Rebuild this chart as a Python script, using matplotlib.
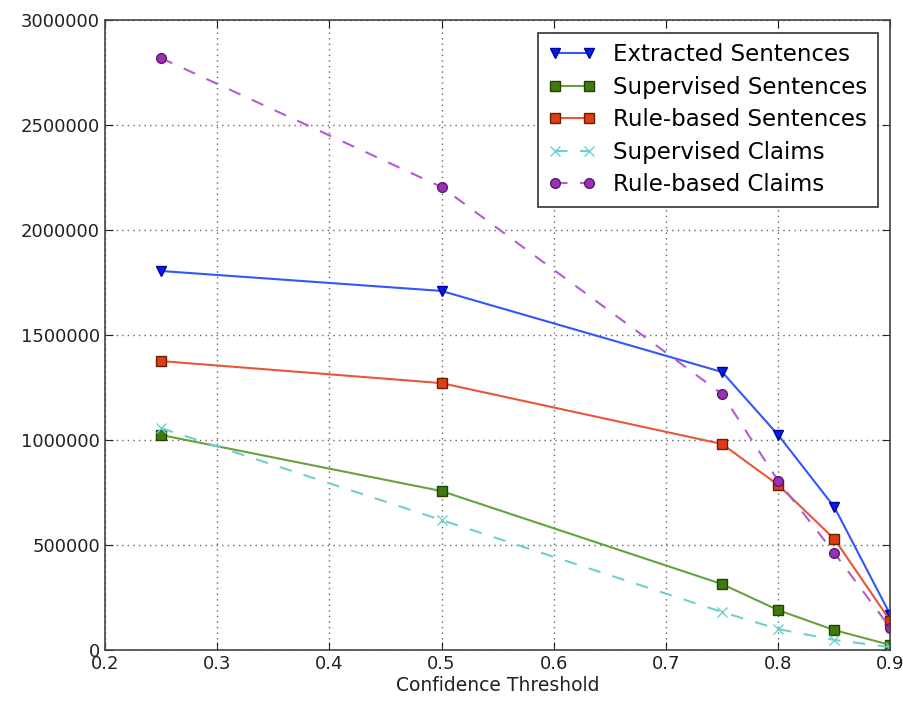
import numpy as np
import matplotlib
matplotlib.use('Agg')
import matplotlib.pyplot as plt

thresholds = [0.25, 0.5, 0.75, 0.8, 0.85, 0.9]
extracted_sent = [1805000, 1710000, 1324000, 1024000, 681000, 167000]
supervised_sent = [1024000, 757000, 314000, 190000, 95000, 24000]
rule_sent = [1376000, 1271000, 981000, 786000, 529000, 138000]
supervised_claims = [1057000, 619000, 181000, 100000, 48000, 14000]
rule_claims = [2819000, 2205000, 1219000, 805000, 462000, 105000]

fig = plt.figure(figsize=(9.04, 7.02), dpi=100)
ax = fig.add_axes([0.116, 0.074, 0.869, 0.8975])

ax.plot(thresholds, extracted_sent, '-v', color='#3355ff', mfc='#0022dd', mec='#0000aa',
        ms=7, label='Extracted Sentences')
ax.plot(thresholds, supervised_sent, '-s', color='#66a23c', mfc='#3f7a10', mec='#224400',
        ms=7, label='Supervised Sentences')
ax.plot(thresholds, rule_sent, '-s', color='#e8563a', mfc='#e03c16', mec='#662200',
        ms=7, label='Rule-based Sentences')
ax.plot(thresholds, supervised_claims, '--x', color='#6fcfcf', mec='#6fcfcf',
        ms=7, dashes=(6, 6), label='Supervised Claims')
ax.plot(thresholds, rule_claims, '--o', color='#b45ad6', mfc='#9b2fb8', mec='#5a1a6a',
        ms=7, dashes=(6, 6), label='Rule-based Claims')

ax.set_xlim(0.2, 0.9)
ax.set_ylim(0, 3000000)
ax.set_xticks(np.arange(0.2, 0.91, 0.1))
ax.set_yticks(np.arange(0, 3000001, 500000))
ax.set_xticklabels(['0.2', '0.3', '0.4', '0.5', '0.6', '0.7', '0.8', '0.9'])
ax.set_yticklabels(['0', '500000', '1000000', '1500000', '2000000', '2500000', '3000000'])
ax.tick_params(direction='in', top=True, right=True, labelsize=13, length=6, colors='#222222')
ax.grid(True, linestyle=(0, (1, 3)), color='#666666', linewidth=1)
for s in ax.spines.values():
    s.set_color('#444444')
    s.set_linewidth(1.2)
ax.set_xlabel('Confidence Threshold', fontsize=13.5, color='#222222', labelpad=2)

leg = ax.legend(loc='upper right', fontsize=16.5, fancybox=False, framealpha=1,
                edgecolor='#333333', numpoints=2, handlelength=2.1, handletextpad=0.75,
                borderpad=0.45, labelspacing=0.42, borderaxespad=0.55)
leg.get_frame().set_linewidth(1.2)

plt.savefig('out.png', dpi=100)
